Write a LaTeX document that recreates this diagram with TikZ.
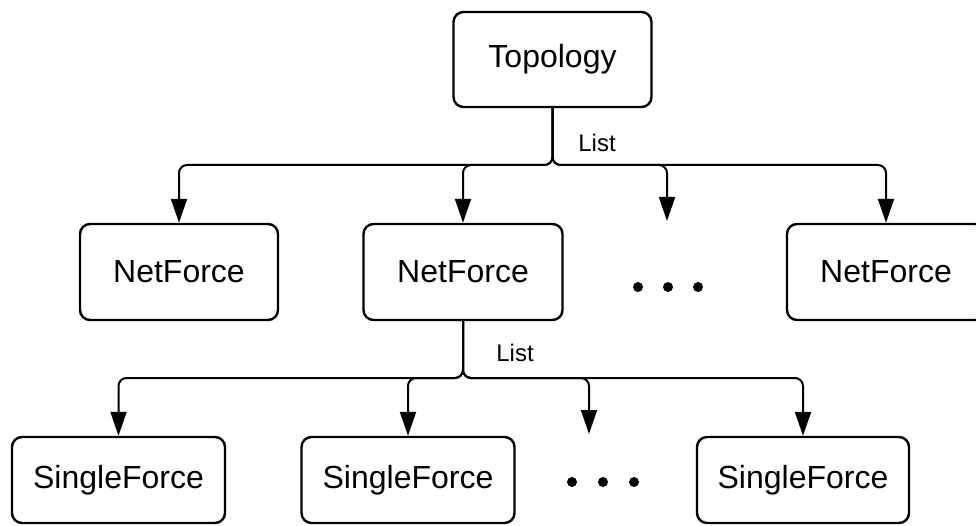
\documentclass[tikz,border=0pt]{standalone}
\usepackage{fontspec}
\setmainfont{Liberation Sans}
\usetikzlibrary{arrows.meta}
\begin{document}
\begin{tikzpicture}[x=1pt,y=-1pt,
  box/.style={draw, line width=2.4pt, rounded corners=10pt, inner sep=0pt,
    font=\fontsize{32}{38}\selectfont},
  conn/.style={line width=2pt, rounded corners=8pt,
    -{Triangle[length=24pt,width=16pt]}},
  lbl/.style={font=\fontsize{24}{28}\selectfont, inner sep=0pt},
  dot/.style={fill=black, circle, inner sep=0pt, minimum size=10pt}]
\useasboundingbox (0,0) rectangle (976,526);
% boxes
\node[box, minimum width=198pt, minimum height=95pt] (topo) at (552.5,59.5) {Topology};
\node[box, minimum width=198pt, minimum height=96pt] (nf1) at (179,272) {NetForce};
\node[box, minimum width=199pt, minimum height=96pt] (nf2) at (463,272) {NetForce};
\node[box, minimum width=198pt, minimum height=96pt] (nf3) at (886,272) {NetForce};
\node[box, minimum width=213pt, minimum height=86pt] (sf1) at (118.5,480) {SingleForce};
\node[box, minimum width=213pt, minimum height=86pt] (sf2) at (408,480) {SingleForce};
\node[box, minimum width=212pt, minimum height=86pt] (sf3) at (803,480) {SingleForce};
% dots
\node[dot] (d1a) at (638,287) {};
\node[dot] (d1b) at (668,287) {};
\node[dot] (d1c) at (698,287) {};
\node[dot] (d2a) at (572,482) {};
\node[dot] (d2b) at (603,482) {};
\node[dot] (d2c) at (634,482) {};
% bus and free-end coordinates
\coordinate (bus1) at (553,165);
\coordinate (bus2) at (463,378);
\coordinate (dots1top) at (667,221);
\coordinate (dots2top) at (589,434);
% labels
\node[lbl] (list1) at (597,143) {List};
\node[lbl] (list2) at (515,353) {List};
% connectors level 1
\draw[conn] (topo.south) -- (topo.south |- bus1) -| (nf1.north);
\draw[conn] (topo.south) -- (topo.south |- bus1) -| (nf2.north);
\draw[conn] (topo.south) -- (topo.south |- bus1) -| (dots1top);
\draw[conn] (topo.south) -- (topo.south |- bus1) -| (nf3.north);
% connectors level 2
\draw[conn] (nf2.south) -- (nf2.south |- bus2) -| (sf1.north);
\draw[conn] (nf2.south) -- (nf2.south |- bus2) -| (sf2.north);
\draw[conn] (nf2.south) -- (nf2.south |- bus2) -| (dots2top);
\draw[conn] (nf2.south) -- (nf2.south |- bus2) -| (sf3.north);
\end{tikzpicture}
\end{document}
